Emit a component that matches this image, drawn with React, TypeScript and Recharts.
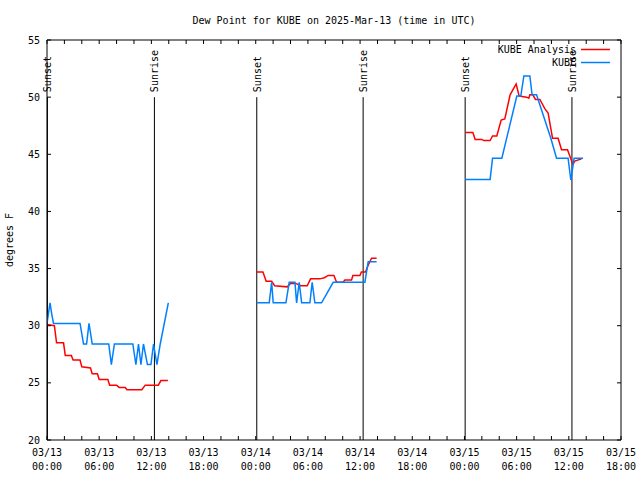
import { LineChart, Line, XAxis, YAxis, ReferenceLine, Legend } from "recharts"

const FONT = "'DejaVu Sans Mono', monospace"
const RED = "#ff0000"
const BLUE = "#0080ff"

// hours after 2025-03-13 00:00 UTC, null = no data (breaks the line)
const analysisHours = [
  0, 0.85, 1.1, 1.9, 2.1, 2.8, 3.0, 3.8, 4.0, 5.0, 5.2, 5.8, 6.0, 7.0, 7.2, 8.0, 8.3, 9.0, 9.2,
  10.9, 11.3, 12.8, 13.1, 13.9,
  19,
  24.1, 24.83, 25.2, 25.83, 26.17, 27.62, 28.0, 28.6, 29.16, 29.92, 30.31, 31.38, 31.9, 32.33,
  32.99, 33.3, 34.06, 34.25, 35.02, 35.17, 35.98, 36.15, 36.63, 36.93, 37.32, 37.9,
  43,
  48.08, 48.97, 49.23, 50.0, 50.23, 50.95, 51.23, 51.72, 52.22, 52.64, 53.25, 53.94, 54.29,
  55.14, 55.4, 55.52, 55.86, 56.17, 56.67, 57.24, 57.62, 58.13, 58.77, 59.16, 59.85, 60.23,
  60.46, 60.69, 61.46,
]
const analysisDew = [
  30.1, 30.0, 28.5, 28.5, 27.4, 27.4, 27.0, 27.0, 26.4, 26.3, 25.8, 25.8, 25.3, 25.3, 24.8, 24.8,
  24.6, 24.6, 24.4, 24.4, 24.8, 24.8, 25.2, 25.2,
  null,
  34.7, 34.7, 33.9, 33.9, 33.5, 33.4, 33.7, 33.7, 33.5, 33.5, 34.1, 34.1, 34.2, 34.4, 34.4, 33.8,
  33.8, 34.0, 34.0, 34.4, 34.4, 34.7, 34.7, 35.3, 35.9, 35.9,
  null,
  46.9, 46.9, 46.3, 46.3, 46.2, 46.2, 46.6, 46.6, 48.0, 48.1, 50.2, 51.15, 50.1, 50.0, 49.9, 50.2,
  50.2, 49.8, 49.8, 49.0, 48.6, 46.4, 46.4, 45.4, 45.4, 44.6, 44.1, 44.4, 44.6,
]

const obsHours = [
  0, 0.15, 0.35, 0.55, 0.75, 3.8, 4.2, 4.55, 4.83, 5.2, 7.1, 7.4, 7.75, 9.87, 10.22, 10.52,
  10.8, 11.09, 11.55, 11.95, 12.25, 12.64, 13.02, 13.95,
  19,
  24.1, 25.55, 25.83, 26.01, 27.47, 27.85, 28.51, 28.7, 29.0, 29.28, 30.23, 30.49, 30.8, 31.57,
  32.91, 36.55, 36.93, 37.9,
  43,
  48.08, 50.95, 51.23, 52.3, 54.02, 54.48, 54.83, 55.52, 55.78, 56.29, 57.93, 58.59, 59.92,
  60.23, 60.61, 61.64,
]
const obsDew = [
  30.2, 31.0, 32.0, 31.0, 30.2, 30.2, 28.4, 28.4, 30.2, 28.4, 28.4, 26.6, 28.4, 28.4, 26.6, 28.4,
  26.6, 28.4, 26.6, 26.6, 28.4, 26.6, 28.4, 32.0,
  null,
  32.0, 32.0, 33.8, 32.0, 32.0, 33.8, 33.8, 32.0, 33.8, 32.0, 32.0, 33.8, 32.0, 32.0, 33.8, 33.8,
  35.6, 35.6,
  null,
  42.8, 42.8, 44.65, 44.65, 50.1, 50.1, 51.85, 51.85, 50.2, 50.2, 46.4, 44.65, 44.65, 42.75,
  44.65, 44.65,
]

const seriesNames = ["KUBE Analysis", "KUBE"]

const sunHours = [0.05, 12.35, 24.12, 36.35, 48.08, 60.36]
const sunLabels = ["Sunset", "Sunrise", "Sunset", "Sunrise", "Sunset", "Sunrise"]

const xTicks = [
  0, 2, 4, 6, 8, 10, 12, 14, 16, 18, 20, 22, 24, 26, 28, 30, 32, 34, 36, 38, 40, 42, 44, 46, 48,
  50, 52, 54, 56, 58, 60, 62, 64, 66,
]
const labelTicks = [0, 6, 12, 18, 24, 30, 36, 42, 48, 54, 60, 66]
const tickDates = ["03/13", "03/13", "03/13", "03/13", "03/14", "03/14", "03/14", "03/14", "03/15", "03/15", "03/15", "03/15"]
const tickTimes = ["00:00", "06:00", "12:00", "18:00", "00:00", "06:00", "12:00", "18:00", "00:00", "06:00", "12:00", "18:00"]
const yTicks = [20, 25, 30, 35, 40, 45, 50, 55]

const analysisData = analysisHours.map((h, i) => ({ h, dew: analysisDew[i] }))
const obsData = obsHours.map((h, i) => ({ h, dew: obsDew[i] }))

const txt = { fontFamily: FONT, fontSize: 10, fill: "#000" }

function BottomTick(props: any) {
  const { x, y, payload } = props
  const i = labelTicks.indexOf(payload.value)
  return (
    <g>
      <line x1={x} y1={y} x2={x} y2={y - 4} stroke="#000" />
      {i >= 0 && (
        <text x={x} y={y} textAnchor="middle" {...txt}>
          <tspan x={x} dy={16}>{tickDates[i]}</tspan>
          <tspan x={x} dy={14}>{tickTimes[i]}</tspan>
        </text>
      )}
    </g>
  )
}

function TopTick(props: any) {
  const { x, y } = props
  return <line x1={x} y1={y} x2={x} y2={y + 4} stroke="#000" />
}

function LeftTick(props: any) {
  const { x, y, payload } = props
  return (
    <g>
      <line x1={x} y1={y} x2={x + 4} y2={y} stroke="#000" />
      <text x={x - 7} y={y + 3.5} textAnchor="end" {...txt}>{payload.value}</text>
    </g>
  )
}

function RightTick(props: any) {
  const { x, y } = props
  return <line x1={x} y1={y} x2={x - 4} y2={y} stroke="#000" />
}

function SunLabel(text: string) {
  return (props: any) => {
    const vb = props.viewBox
    const x = vb.x + 4
    const y = vb.y - 5
    return (
      <text x={x} y={y} transform={`rotate(-90 ${x} ${y})`} textAnchor="start" {...txt}>
        {text}
      </text>
    )
  }
}

function LegendBox(props: any) {
  const items = [...(props.payload || [])].sort(
    (a: any, b: any) => seriesNames.indexOf(a.value) - seriesNames.indexOf(b.value)
  )
  return (
    <svg width={140} height={32}>
      {items.map((it: any, i: number) => (
        <g key={it.value}>
          <text x={96} y={13 + i * 13} textAnchor="end" {...txt}>{it.value}</text>
          <line x1={101} x2={130} y1={9.5 + i * 13} y2={9.5 + i * 13} stroke={it.color} strokeWidth={1.5} />
        </g>
      ))}
    </svg>
  )
}

export default function App() {
  return (
    <div style={{ position: "absolute", left: 0, top: 0, width: 640, height: 480, background: "#fff" }}>
      <LineChart width={640} height={480} margin={{ top: 0, right: 0, bottom: 0, left: 0 }}>
        <XAxis
          xAxisId="b"
          dataKey="h"
          type="number"
          domain={[0, 66]}
          ticks={xTicks}
          interval={0}
          height={40}
          tickSize={0}
          tickMargin={0}
          tickLine={false}
          tick={<BottomTick />}
          axisLine={{ stroke: "#000" }}
          allowDataOverflow
        />
        <XAxis
          xAxisId="t"
          orientation="top"
          dataKey="h"
          type="number"
          domain={[0, 66]}
          ticks={xTicks}
          interval={0}
          height={40}
          tickSize={0}
          tickMargin={0}
          tickLine={false}
          tick={<TopTick />}
          axisLine={{ stroke: "#000" }}
          allowDataOverflow
          label={(p: any) => (
            <text x={p.viewBox.x + p.viewBox.width / 2} y={24} textAnchor="middle" {...txt}>
              Dew Point for KUBE on 2025-Mar-13 (time in UTC)
            </text>
          )}
        />
        <YAxis
          yAxisId="l"
          type="number"
          domain={[20, 55]}
          ticks={yTicks}
          interval={0}
          width={47}
          tickSize={0}
          tickMargin={0}
          tickLine={false}
          tick={<LeftTick />}
          axisLine={{ stroke: "#000" }}
          allowDataOverflow
          label={(p: any) => (
            <text x={13} y={240} transform="rotate(-90 13 240)" textAnchor="middle" {...txt}>
              degrees F
            </text>
          )}
        />
        <YAxis
          yAxisId="r"
          orientation="right"
          type="number"
          domain={[20, 55]}
          ticks={yTicks}
          interval={0}
          width={19}
          tickSize={0}
          tickMargin={0}
          tickLine={false}
          tick={<RightTick />}
          axisLine={{ stroke: "#000" }}
          allowDataOverflow
        />
        {sunHours.map((h, i) => (
          <ReferenceLine
            key={i}
            xAxisId="b"
            yAxisId="l"
            segment={[{ x: h, y: 20 }, { x: h, y: 50 }]}
            stroke="#000"
            strokeWidth={1}
            label={SunLabel(sunLabels[i])}
          />
        ))}
        <Line
          xAxisId="b"
          yAxisId="l"
          data={analysisData}
          dataKey="dew"
          name="KUBE Analysis"
          type="linear"
          stroke={RED}
          strokeWidth={1.5}
          dot={false}
          isAnimationActive={false}
        />
        <Line
          xAxisId="b"
          yAxisId="l"
          data={obsData}
          dataKey="dew"
          name="KUBE"
          type="linear"
          stroke={BLUE}
          strokeWidth={1.5}
          dot={false}
          isAnimationActive={false}
        />
        <Legend
          layout="horizontal"
          verticalAlign="middle"
          align="center"
          content={<LegendBox />}
          wrapperStyle={{ position: "absolute", left: 480, top: 40, width: 140, height: 32 }}
        />
      </LineChart>
    </div>
  )
}
